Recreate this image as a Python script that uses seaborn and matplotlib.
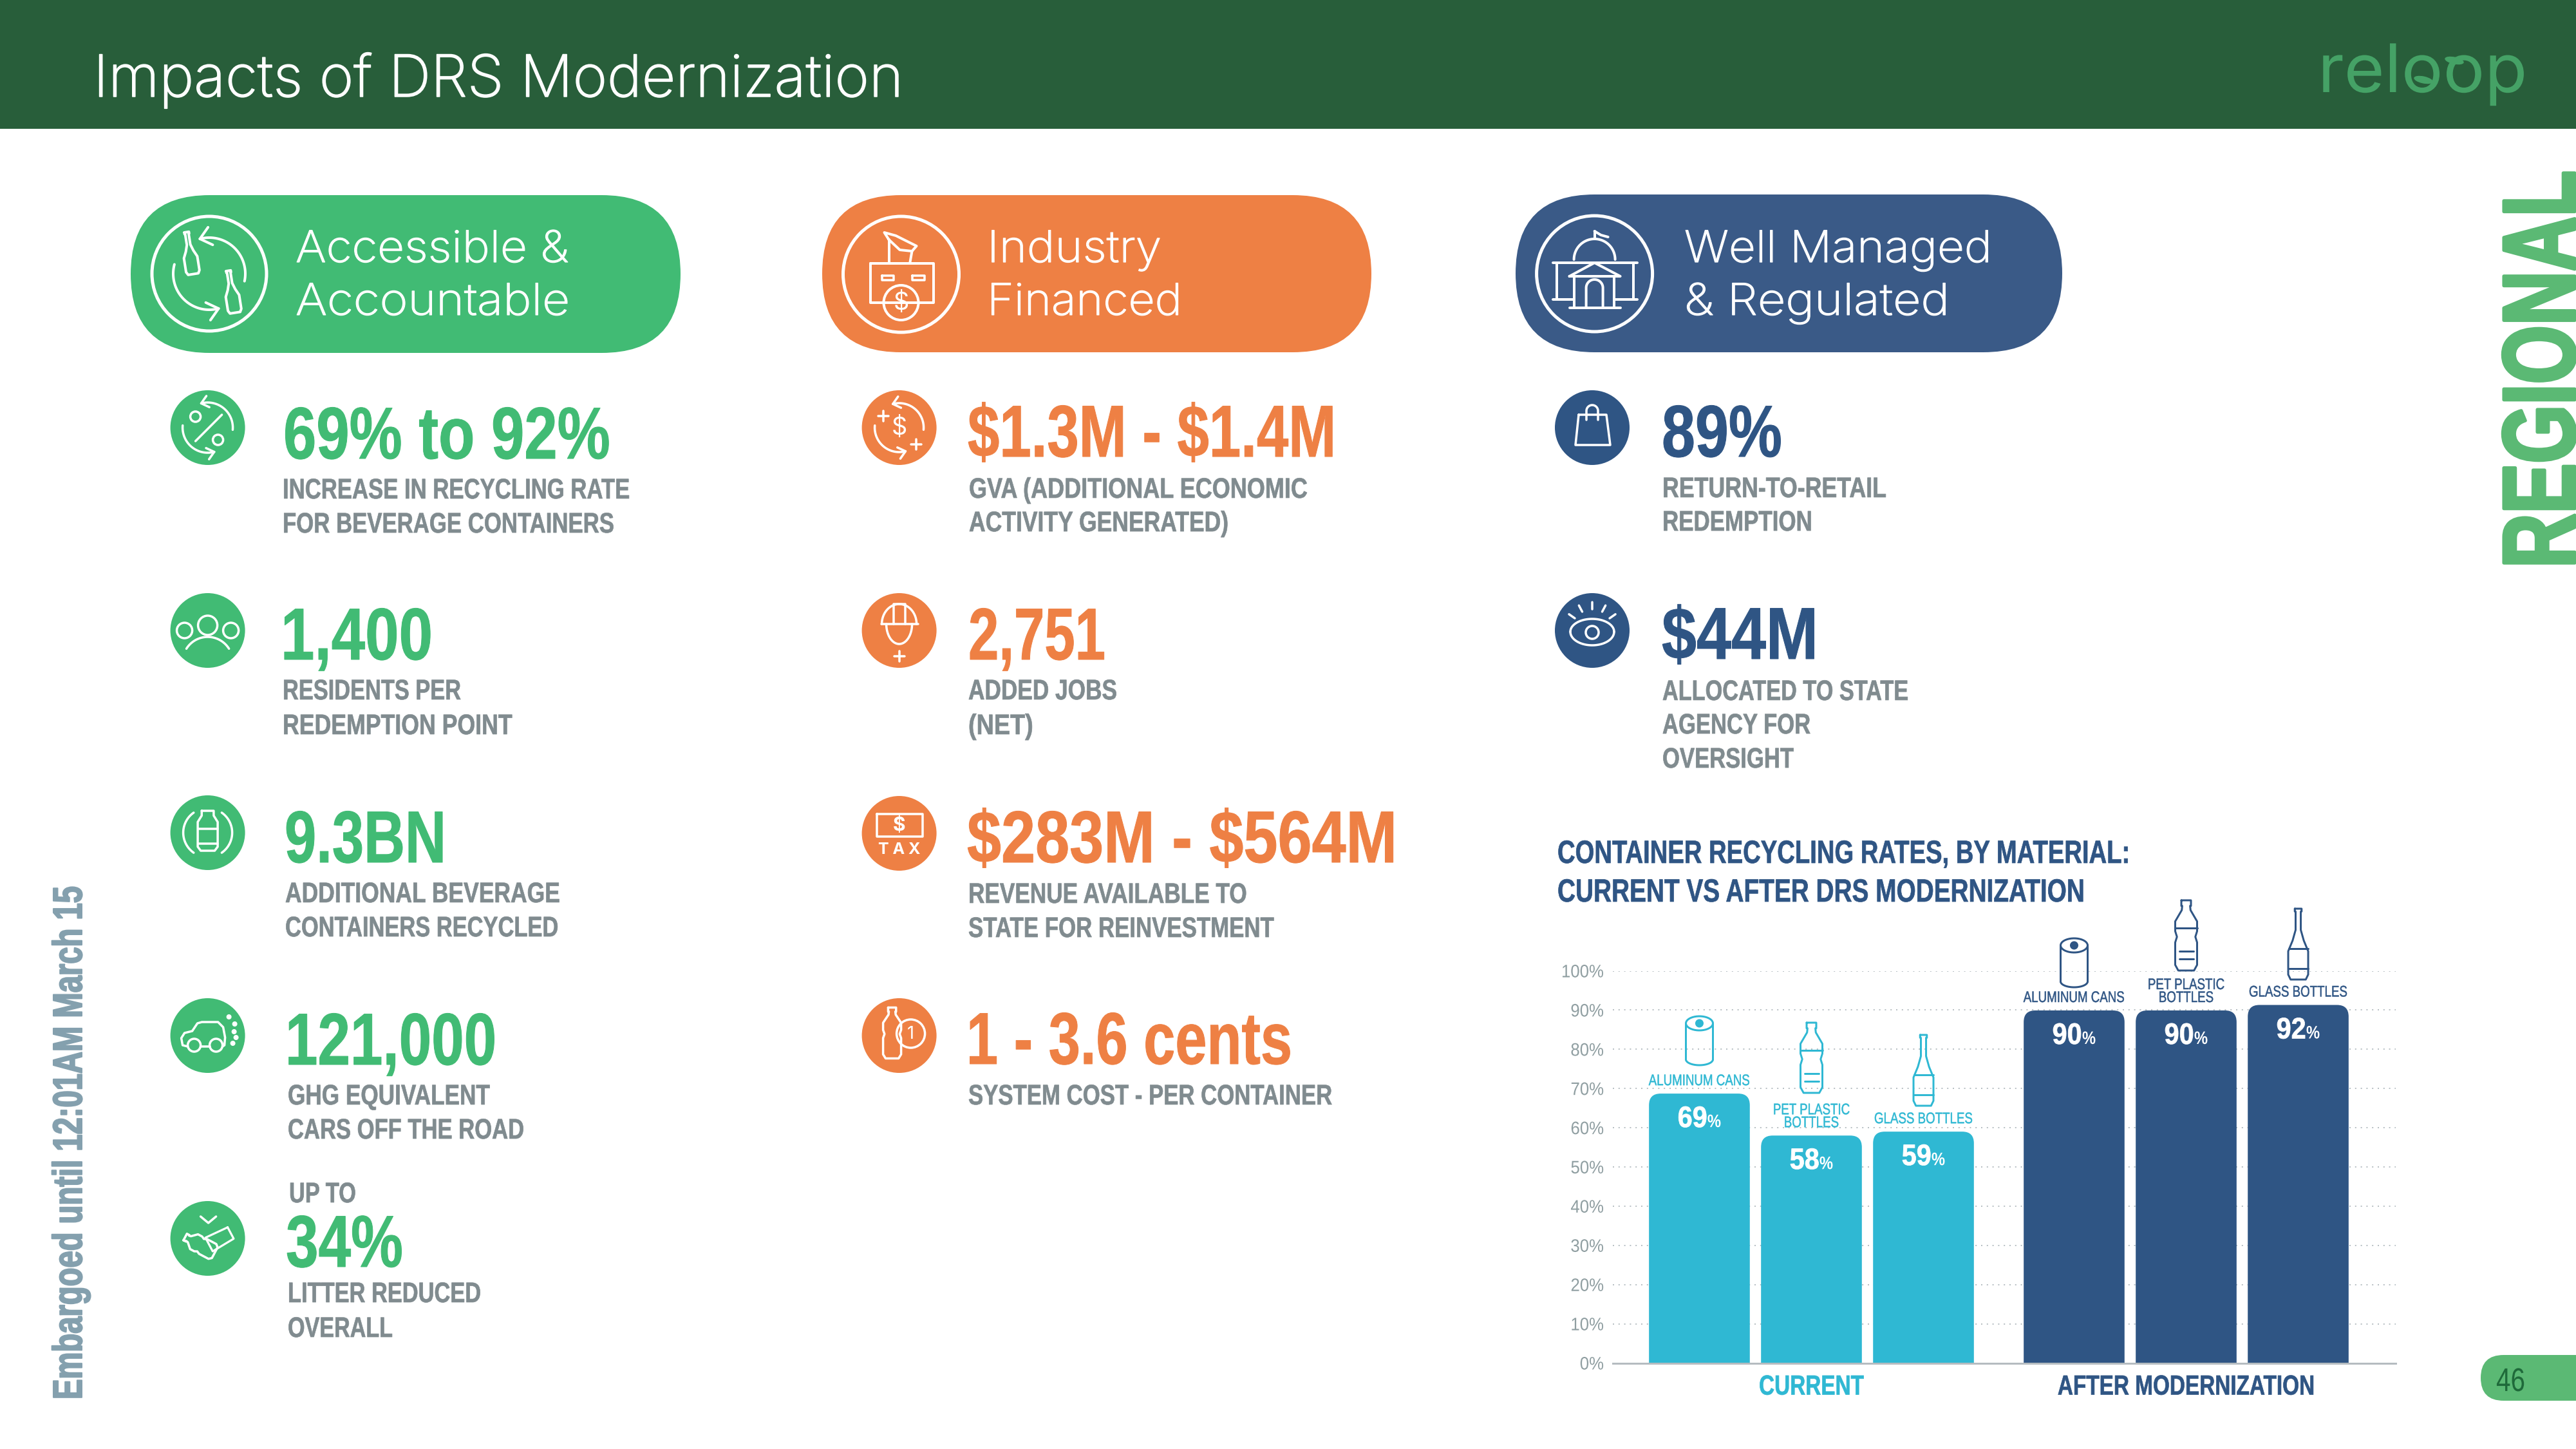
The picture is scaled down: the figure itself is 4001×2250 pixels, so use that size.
#!/usr/bin/env python3
"""Impacts of DRS Modernization slide: KPI columns plus recycling rate bar chart."""

import numpy as np
import pandas as pd
import matplotlib
matplotlib.use("Agg")
import matplotlib.pyplot as plt
import seaborn as sns
from matplotlib.patches import Circle, Ellipse, FancyBboxPatch
from matplotlib.path import Path
from matplotlib.patheffects import AbstractPathEffect
from matplotlib.transforms import Affine2D

W, H = 4001, 2250

GREEN = "#41bb74"
ORANGE = "#ee8044"
NAVY = "#2f5584"
PILL_NAVY = "#3a5a87"
TEAL = "#2fb8d3"
GREY = "#808b8f"
HEADER = "#285e3a"
SOFT_GREEN = "#5bb974"
LOGO = "#45a266"

BODY = ["Liberation Sans", "DejaVu Sans"]
WIDE = ["Inter", "Open Sans", "DejaVu Sans"]

# chart data
groups = ["CURRENT"] * 3 + ["AFTER MODERNIZATION"] * 3
materials = ["ALUMINUM CANS", "PET PLASTIC\nBOTTLES", "GLASS BOTTLES"] * 2
rate_labels = [69, 58, 59, 90, 90, 92]
bar_heights = [68.7, 58.0, 59.0, 89.9, 89.9, 91.3]
y_ticks = [0, 10, 20, 30, 40, 50, 60, 70, 80, 90, 100]

# KPI text
col1_values = ["69% to 92%", "1,400", "9.3BN", "121,000", "34%"]
col1_labels = [["INCREASE IN RECYCLING RATE", "FOR BEVERAGE CONTAINERS"],
               ["RESIDENTS PER", "REDEMPTION POINT"],
               ["ADDITIONAL BEVERAGE", "CONTAINERS RECYCLED"],
               ["GHG EQUIVALENT", "CARS OFF THE ROAD"],
               ["LITTER REDUCED", "OVERALL"]]
col2_values = ["$1.3M - $1.4M", "2,751", "$283M - $564M", "1 - 3.6 cents"]
col2_labels = [["GVA (ADDITIONAL ECONOMIC", "ACTIVITY GENERATED)"],
               ["ADDED JOBS", "(NET)"],
               ["REVENUE AVAILABLE TO", "STATE FOR REINVESTMENT"],
               ["SYSTEM COST - PER CONTAINER"]]
col3_values = ["89%", "$44M"]
col3_labels = [["RETURN-TO-RETAIL", "REDEMPTION"],
               ["ALLOCATED TO STATE", "AGENCY FOR", "OVERSIGHT"]]

# layout, pixels on the 4001x2250 slide: value widths, label widths, anchors
col1_value_w = [508, 236, 251, 328, 182]
col1_label_w = [[539, 515], [277, 357], [427, 424], [314, 367], [300, 163]]
col1_value_pos = [(440, 712), (436, 1024), (442, 1339), (443, 1653), (444, 1967)]
col1_label_pos = [(439, [774, 827]), (439, [1086, 1140]), (443, [1401, 1454]),
                  (447, [1715, 1768]), (447, [2022, 2076])]
col1_icon_y = [664, 979, 1293, 1608, 1923]
col2_value_w = [572, 213, 668, 506]
col2_label_w = [[526, 403], [231, 101], [433, 475], [565]]
col2_value_pos = [(1503, 709), (1504, 1024), (1502, 1339), (1501, 1652)]
col2_label_pos = [(1505, [773, 825]), (1504, [1086, 1140]), (1504, [1402, 1455]), (1504, [1715])]
col2_icon_y = [664, 979, 1294, 1608]
col3_value_w = [187, 243]
col3_label_w = [[348, 233], [382, 230, 204]]
col3_value_pos = [(2581, 709), (2581, 1023)]
col3_label_pos = [(2582, [772, 824]), (2582, [1087, 1139, 1192])]
col3_icon_y = [664, 979]

sns.set_theme(style="white")
plt.rcParams["font.family"] = BODY

fig = plt.figure(figsize=(W / 100, H / 100), dpi=100, facecolor="white")
renderer = fig.canvas.get_renderer()

# bar chart axes
ax = fig.add_axes([2505 / W, 1 - 2116.5 / H, (3721 - 2505) / W, (2116.5 - 1507.5) / H])
ax.patch.set_alpha(0)

# slide overlay in pixel coordinates
ov = fig.add_axes([0, 0, 1, 1], zorder=5)
ov.set_xlim(0, W)
ov.set_ylim(H, 0)
ov.axis("off")


class Squeeze(AbstractPathEffect):
    """Scale glyphs along the baseline and thicken them a bit, the installed fonts have no condensed cut."""

    def __init__(self, sx, align=0.0, grow=0.0):
        super().__init__()
        self.sx = sx
        self.align = align
        self.grow = grow

    def draw_path(self, renderer, gc, tpath, affine, rgbFace=None):
        shift = (1 - self.sx) * tpath.get_extents().x1 * self.align
        gc0 = renderer.new_gc()
        gc0.copy_properties(gc)
        if self.grow > 0:
            gc0.set_linewidth(self.grow * 0.72)
            gc0.set_foreground(rgbFace)
            gc0.set_joinstyle("round")
        renderer.draw_path(gc0, tpath, Affine2D().scale(self.sx, 1).translate(shift, 0) + affine, rgbFace)
        gc0.restore()


def txt(x, y, s, px, color, family=BODY, weight="bold", width=None, sx=None, rotation=0, ha="left",
        va="baseline", grow=0.0):
    t = ov.text(x, y, s, fontsize=px * 0.72, color=color, family=family, fontweight=weight,
                va=va, ha=ha, parse_math=False, rotation_mode="anchor")
    if width is not None:
        sx = width / t.get_window_extent(renderer).width
    if sx is not None:
        t.set_path_effects([Squeeze(sx, {"left": 0.0, "center": 0.5, "right": 1.0}[ha], grow)])
    t.set_rotation(rotation)
    return t


def poly(cx, cy, pts, lw=3.5, color="white", closed=False, sx=1.0, sy=1.0, rot=0.0):
    pts = np.asarray(pts, dtype=float)
    if closed:
        pts = np.vstack([pts, pts[:1]])
    px, py = pts[:, 0] * sx, pts[:, 1] * sy
    a = np.radians(rot)
    xs = cx + px * np.cos(a) - py * np.sin(a)
    ys = cy + px * np.sin(a) + py * np.cos(a)
    ov.plot(xs, ys, color=color, lw=lw * 0.72, solid_capstyle="round", solid_joinstyle="round")


def ring(cx, cy, r, lw=3.5, color="white", fill="none"):
    ov.add_patch(Circle((cx, cy), r, fc=fill, ec=color, lw=lw * 0.72))


def arc_pts(r, a0, a1, x0=0.0, y0=0.0, ry=None):
    t = np.radians(np.linspace(a0, a1, 40))
    return np.column_stack([x0 + r * np.cos(t), y0 + (ry or r) * np.sin(t)])


def arc_arrow(cx, cy, r, a0, a1, head, lw=3.5):
    poly(cx, cy, arc_pts(r, a0, a1), lw=lw)
    end = np.radians(a1)
    tip = np.array([r * np.cos(end), r * np.sin(end)])
    sign = 1 if a1 > a0 else -1
    travel = np.array([-np.sin(end), np.cos(end)]) * sign
    for turn in (140, -140):
        c, s = np.cos(np.radians(turn)), np.sin(np.radians(turn))
        barb = np.array([c * travel[0] - s * travel[1], s * travel[0] + c * travel[1]])
        poly(cx, cy, [tip, tip + barb * head], lw=lw)


GLASS = [(-.17, -.5), (.17, -.5), (.17, -.46), (.13, -.46), (.13, -.2), (.28, -.05), (.5, .1),
         (.5, .43), (.38, .5), (-.38, .5), (-.5, .43), (-.5, .1), (-.28, -.05), (-.13, -.2),
         (-.13, -.46), (-.17, -.46)]
PET = [(-.22, -.5), (.22, -.5), (.22, -.42), (.18, -.42), (.2, -.36), (.5, -.2), (.5, -.06),
       (.42, .02), (.5, .1), (.5, .42), (.36, .5), (-.36, .5), (-.5, .42), (-.5, .1), (-.42, .02),
       (-.5, -.06), (-.5, -.2), (-.2, -.36), (-.18, -.42), (-.22, -.42)]
JUG = [(-.3, -.5), (.3, -.5), (.3, -.38), (.5, -.22), (.5, .4), (.35, .5), (-.35, .5), (-.5, .4),
       (-.5, -.22), (-.3, -.38)]


def plus(cx, cy, size, lw=3.5, color="white"):
    poly(cx, cy, [(-size, 0), (size, 0)], lw=lw, color=color)
    poly(cx, cy, [(0, -size), (0, size)], lw=lw, color=color)


def pill(x0, x1, y0, y1, color):
    r = (y1 - y0) / 2
    ov.add_patch(FancyBboxPatch((x0, y0), x1 - x0, y1 - y0, boxstyle=f"round,pad=0,rounding_size={r}",
                                fc=color, ec="none"))


# small icons, drawn around the centre of a filled disc
def icon_percent(cx, cy):
    arc_arrow(cx, cy, 39, 5, -105, 14)
    arc_arrow(cx, cy, 39, 185, 75, 14)
    poly(cx, cy, [(-19, 21), (22, -20)])
    ring(cx - 19, cy - 17, 8)
    ring(cx + 16, cy + 19, 8)


def icon_people(cx, cy):
    ring(cx, cy - 8, 15)
    ring(cx - 36, cy, 12)
    ring(cx + 36, cy, 12)
    poly(cx, cy, arc_pts(39, 212, 328, 0, 49))


def icon_bottle_waves(cx, cy):
    poly(cx, cy - 3, JUG, closed=True, sx=31, sy=62)
    poly(cx, cy, [(-15, -6), (15, -6)])
    poly(cx, cy, [(-15, 17), (15, 17)])
    poly(cx, cy, arc_pts(38, 125, 235))
    poly(cx, cy, arc_pts(38, -55, 55))


def icon_car(cx, cy):
    poly(cx, cy, [(-31, 17), (-39, 15), (-41, 4), (-36, -4), (-24, -7), (-16, -19), (-9, -21), (16, -21),
                  (24, -13), (27, 3), (26, 15), (23, 17)])
    poly(cx, cy, [(-11, 17), (3, 17)])
    ring(cx - 21, cy + 15, 10)
    ring(cx + 13, cy + 15, 10)
    for dx, dy in [(33, -29), (42, -18), (41, -6), (44, 3), (39, 12)]:
        ov.add_patch(Circle((cx + dx, cy + dy), 4, fc="white", ec="none"))


def icon_litter(cx, cy):
    poly(cx, cy, [(-11, -34), (1, -24), (13, -34)])
    poly(cx - 12, cy + 10, PET, closed=True, sx=26, sy=52, rot=-62)
    poly(cx + 18, cy + 1, [(-10, -20), (10, -20), (12, 18), (-12, 18)], closed=True, rot=62, lw=3.2)


def icon_dollar_loop(cx, cy):
    arc_arrow(cx, cy, 38, 5, -105, 14)
    arc_arrow(cx, cy, 38, 185, 75, 14)
    txt(cx, cy + 1, "$", 38, "white", family=WIDE, weight="normal", ha="center", va="center")
    plus(cx - 25, cy - 18, 8)
    plus(cx + 26, cy + 26, 8)


def icon_helmet(cx, cy):
    poly(cx, cy, [(-28, -10), (29, -10)])
    poly(cx, cy, arc_pts(27, 180, 360, 0, -10, ry=31))
    poly(cx, cy, [(-9, -10), (-9, -41), (9, -41), (9, -10)])
    poly(cx, cy, arc_pts(20, 180, 0, 0, -10, ry=31))
    plus(cx, cy + 40, 8)


def icon_tax(cx, cy):
    poly(cx, cy, [(-35, -30), (36, -30), (36, 5), (-35, 5)], closed=True)
    txt(cx, cy - 12, "$", 30, "white", family=WIDE, ha="center", va="center")
    txt(cx, cy + 25, "T A X", 25, "white", family=WIDE, ha="center", va="center")


def icon_cost(cx, cy):
    poly(cx - 11, cy - 4, PET, closed=True, sx=28, sy=79)
    ring(cx + 18, cy - 3, 22, fill=ORANGE)
    txt(cx + 18, cy - 2, "1", 27, "white", family=WIDE, weight="normal", ha="center", va="center")


def icon_bag(cx, cy):
    poly(cx, cy, [(-21, -20), (22, -20), (28, 27), (-26, 27)], closed=True)
    poly(cx, cy, [(-9, -12)] + list(arc_pts(9, 180, 360, 0, -26)) + [(9, -12)])


def icon_eye(cx, cy):
    poly(cx, cy + 2, arc_pts(34, 180, 360, 0, 0, ry=20))
    poly(cx, cy + 2, arc_pts(34, 180, 0, 0, 0, ry=21))
    ring(cx, cy + 3, 10)
    for ang in (-90, -62, -118, -35, -145):
        a = np.radians(ang)
        poly(cx, cy, [(33 * np.cos(a), 33 * np.sin(a)), (44 * np.cos(a), 44 * np.sin(a))])


# large pill icons
def pill_icon_bottles(cx, cy):
    ring(cx, cy, 89, lw=5)
    arc_arrow(cx, cy, 56, 12, -105, 22, lw=4)
    arc_arrow(cx, cy, 56, 195, 75, 22, lw=4)
    poly(cx - 30, cy - 32, GLASS, closed=True, sx=21, sy=66, rot=-9, lw=4)
    poly(cx + 35, cy + 28, GLASS, closed=True, sx=21, sy=66, rot=-9, lw=4)


def pill_icon_factory(cx, cy, fill):
    ring(cx, cy, 90, lw=5)
    poly(cx, cy, [(-48, -17), (50, -17), (50, 44), (-48, 44)], closed=True, lw=4)
    poly(cx, cy, [(-30, 2), (-12, 2), (-12, 9), (-30, 9)], closed=True, lw=3.5)
    poly(cx, cy, [(17, 2), (36, 2), (36, 9), (17, 9)], closed=True, lw=3.5)
    poly(cx, cy, [(-19, -19), (-19, -54)], lw=4)
    poly(cx, cy, [(14, -19), (17, -36)], lw=4)
    poly(cx, cy, [(-19, -54), (-26, -65), (-8, -60), (24, -44), (17, -36), (-2, -38), (-19, -54)], lw=4)
    ring(cx, cy + 44, 27, lw=4, fill=fill)
    txt(cx, cy + 45, "$", 38, "white", family=WIDE, weight="normal", ha="center", va="center")


def pill_icon_building(cx, cy):
    ring(cx, cy, 90, lw=5)
    poly(cx, cy, [(-65, -17), (66, -17)], lw=4)
    poly(cx, cy, [(-65, 40), (-32, 40)], lw=4)
    poly(cx, cy, [(30, 40), (66, 40)], lw=4)
    poly(cx, cy, [(-59, -17), (-59, 40)], lw=4)
    poly(cx, cy, [(60, -17), (60, 40)], lw=4)
    poly(cx, cy, [(-39, 4), (0, -17), (40, 4), (-39, 4)], lw=4)
    poly(cx, cy, [(-39, 53), (40, 53)], lw=4)
    poly(cx, cy, [(-32, 4), (-32, 53)], lw=4)
    poly(cx, cy, [(30, 4), (30, 53)], lw=4)
    poly(cx, cy, [(-13, 53), (-13, 22)] + list(arc_pts(13, 180, 360, 0, 22)) + [(13, 53)], lw=4)
    poly(cx, cy, arc_pts(32, 180, 360, 0, -22), lw=4)
    poly(cx, cy, [(0, -54), (0, -66)], lw=4)
    poly(cx, cy, [(0, -66), (10, -60), (21, -57)], lw=4)


# container icons over the bars
def icon_can(cx, bottom, color):
    h = 77
    top = bottom - h
    lw = 3
    poly(cx, top, arc_pts(21, 0, 360, 0, 12, ry=11), lw=lw, color=color)
    poly(cx, top, [(-21, 12), (-21, h - 9)], lw=lw, color=color)
    poly(cx, top, [(21, 12), (21, h - 9)], lw=lw, color=color)
    poly(cx, top, arc_pts(21, 180, 0, 0, h - 9, ry=9), lw=lw, color=color)
    ring(cx, top + 12, 5, lw=3, color=color, fill=color)


def icon_pet(cx, bottom, color):
    h = 109
    poly(cx, bottom - h / 2, PET, closed=True, sx=34, sy=h, lw=3, color=color)
    poly(cx, bottom, [(-17, -66), (17, -66)], lw=3, color=color)
    poly(cx, bottom, [(-11, -30), (11, -30)], lw=3, color=color)
    poly(cx, bottom, [(-11, -18), (11, -18)], lw=3, color=color)


def icon_glass(cx, bottom, color):
    h = 110
    poly(cx, bottom - h / 2, GLASS, closed=True, sx=31, sy=h, lw=3, color=color)
    poly(cx, bottom, [(-15, -48), (15, -48)], lw=3, color=color)
    poly(cx, bottom, [(-15, -17), (15, -17)], lw=3, color=color)


# page furniture
ov.add_patch(FancyBboxPatch((0, 0), W, 200, boxstyle="square,pad=0", fc=HEADER, ec="none"))
txt(145, 150, "Impacts of DRS Modernization", 90, "white", family=WIDE, weight="light", width=1259, grow=1.5)
txt(3600, 143, "reloop", 104, LOGO, family=WIDE, weight="normal", width=325)
ov.add_patch(Ellipse((3812, 94), 30, 11, angle=12, fc=LOGO, ec="none"))
ov.add_patch(Ellipse((3764, 124), 30, 11, angle=12, fc=LOGO, ec="none"))
txt(3999, 882, "REGIONAL", 160, SOFT_GREEN, rotation=90, width=617, grow=5)
txt(127, 2173, "Embargoed until 12:01AM March 15", 64, "#84a0ae", rotation=90, width=797, grow=2)
pill(3853, 4060, 2104, 2175, SOFT_GREEN)
txt(3877, 2160, "46", 51, "#1f6a3a", weight="normal", width=45)

# pills
pill(203, 1057, 303, 548, GREEN)
pill(1277, 2130, 303, 547, ORANGE)
pill(2354, 3203, 302, 547, PILL_NAVY)
pill_text = [(459, "Accessible &", 424, "Accountable", 426), (1533, "Industry", 271, "Financed", 303),
             (2616, "Well Managed", 478, "& Regulated", 412)]
for x, line1, w1, line2, w2 in pill_text:
    txt(x, 407, line1, 68, "white", family=WIDE, weight="light", width=w1, grow=1.2)
    txt(x, 489, line2, 68, "white", family=WIDE, weight="light", width=w2, grow=1.2)
pill_icon_bottles(325, 425)
pill_icon_factory(1399.5, 426, ORANGE)
pill_icon_building(2476.6, 425)

# KPI columns
columns = [
    (322.6, GREEN, col1_values, col1_labels, col1_value_w, col1_label_w, col1_value_pos, col1_label_pos, col1_icon_y,
     [icon_percent, icon_people, icon_bottle_waves, icon_car, icon_litter]),
    (1396.6, ORANGE, col2_values, col2_labels, col2_value_w, col2_label_w, col2_value_pos, col2_label_pos, col2_icon_y,
     [icon_dollar_loop, icon_helmet, icon_tax, icon_cost]),
    (2473, NAVY, col3_values, col3_labels, col3_value_w, col3_label_w, col3_value_pos, col3_label_pos, col3_icon_y,
     [icon_bag, icon_eye]),
]
for icon_x, color, values, labels, value_w, label_w, value_pos, label_pos, icon_y, icons in columns:
    for i, value in enumerate(values):
        ov.add_patch(Circle((icon_x, icon_y[i]), 58, fc=color, ec="none"))
        icons[i](icon_x, icon_y[i])
        txt(value_pos[i][0], value_pos[i][1], value, 114, color, width=value_w[i], grow=1)
        lx, lys = label_pos[i]
        for line, ly, lw_ in zip(labels[i], lys, label_w[i]):
            txt(lx, ly, line, 44, GREY, width=lw_, grow=0.7)
txt(449, 1867, "UP TO", 44, GREY, width=104, grow=0.7)

# chart title
txt(2419, 1340, "CONTAINER RECYCLING RATES, BY MATERIAL:", 50, NAVY, width=889, grow=0.7)
txt(2419, 1400, "CURRENT VS AFTER DRS MODERNIZATION", 50, NAVY, width=819, grow=0.7)

# bars
df = pd.DataFrame({"group": groups, "material": materials, "height": bar_heights})
sns.barplot(data=df, x="group", y="height", hue="material", order=["CURRENT", "AFTER MODERNIZATION"],
            hue_order=materials[:3], width=0.897, gap=0.1, saturation=1, legend=False, ax=ax,
            errorbar=None)
ax.set_xlim(-308.5 / 582, 907.5 / 582)
ax.set_ylim(0, 100)
ax.set_xlabel("")
ax.set_ylabel("")
sns.despine(ax=ax, left=True)
ax.spines["bottom"].set_color("#b5bcc0")
ax.spines["bottom"].set_linewidth(3 * 0.72)
ax.set_axisbelow(True)
ax.yaxis.grid(True, color="#b8c0c4", lw=1.44, ls=(0, (1, 3.4)))
ax.xaxis.grid(False)
ax.set_yticks(y_ticks)
ax.set_yticklabels([f"{v}%" for v in y_ticks], fontsize=28 * 0.72, color="#8f9ea1")
for tick in ax.get_yticklabels():
    tick.set_path_effects([Squeeze(0.92, 1.0)])
ax.tick_params(axis="y", length=0, pad=10)
ax.tick_params(axis="x", length=0, pad=13)
ax.set_xticks([0, 1])
ax.set_xticklabels(["CURRENT", "AFTER MODERNIZATION"], fontsize=43 * 0.72, fontweight="bold")
for tick, color in zip(ax.get_xticklabels(), [TEAL, NAVY]):
    tick.set_color(color)
    tick.set_path_effects([Squeeze(0.775, 0.5, 0.7)])

px_x = 582.0
px_y = 6.09
rx, ry = 18 / px_x, 18 / px_y
bar_list = []
for hue_i, container in enumerate(ax.containers):
    for group_i, bar in enumerate(container):
        idx = group_i * 3 + hue_i
        color = TEAL if group_i == 0 else NAVY
        bar.set_facecolor(color)
        bar.set_edgecolor("none")
        x0, w, h = bar.get_x(), bar.get_width(), bar.get_height()
        x1 = x0 + w
        # rounded top corners via clipping
        verts = [(x0, 0), (x0, h - ry), (x0, h), (x0 + rx, h), (x1 - rx, h), (x1, h), (x1, h - ry), (x1, 0), (x0, 0)]
        codes = [Path.MOVETO, Path.LINETO, Path.CURVE3, Path.CURVE3, Path.LINETO, Path.CURVE3, Path.CURVE3,
                 Path.LINETO, Path.CLOSEPOLY]
        bar.set_clip_path(Path(verts, codes), ax.transData)
        bar_list.append((idx, x0 + w / 2, h, color))

for idx, center, h, color in bar_list:
    number = ax.annotate(str(rate_labels[idx]), (center, h), xytext=(0, -52 * 0.72), textcoords="offset points",
                         ha="right", va="baseline", fontsize=46 * 0.72, fontweight="bold", color="white")
    pct = ax.annotate("%", (center, h), xytext=(0, -52 * 0.72), textcoords="offset points",
                      ha="left", va="baseline", fontsize=28 * 0.72, fontweight="bold", color="white")
    number.set_path_effects([Squeeze(0.9, 1.0, 0.8)])
    pct.set_path_effects([Squeeze(0.85, 0.0)])
    w1 = number.get_window_extent(renderer).width * 0.9
    w2 = pct.get_window_extent(renderer).width * 0.85
    shift = (w1 - w2) / 2 * 0.72
    number.set_position((shift, -52 * 0.72))
    pct.set_position((shift, -52 * 0.72))
    for i, line in enumerate(reversed(materials[idx].split("\n"))):
        label = ax.annotate(line, (center, h), xytext=(0, (13 + i * 20) * 0.72), textcoords="offset points",
                            ha="center", va="baseline", fontsize=24 * 0.72, color=color)
        label.set_path_effects([Squeeze(0.78, 0.5, 0.5)])

# container icons, positions from the bar centres
bar_centers = {idx: center for idx, center, _, _ in bar_list}
icon_bottoms = [1654, 1697, 1717, 1533, 1507, 1521]
icon_funcs = [icon_can, icon_pet, icon_glass] * 2
for idx, (bottom, func) in enumerate(zip(icon_bottoms, icon_funcs)):
    func(2813.5 + bar_centers[idx] * px_x, bottom, TEAL if idx < 3 else NAVY)

fig.savefig("out.png", dpi=100, facecolor="white")
